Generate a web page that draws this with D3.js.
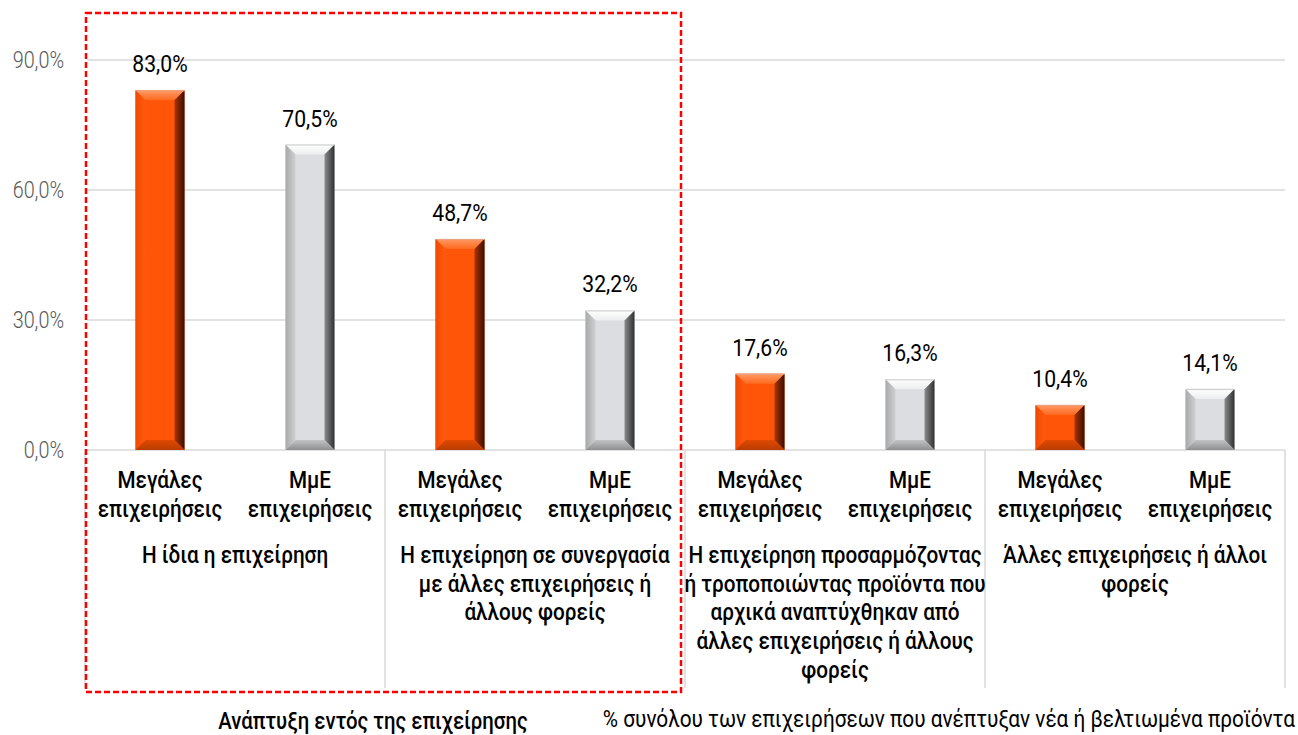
<!DOCTYPE html>
<html><head><meta charset="utf-8">
<script src="https://cdn.jsdelivr.net/npm/d3@7"></script>
<style>
html,body{margin:0;padding:0;background:#fff;}
svg{display:block;font-family:Roboto,"Noto Sans",sans-serif;}
</style></head>
<body><svg id="c" width="1298" height="735"></svg>
<script>
// ---- data ----
const barLabels = ["Μεγάλες|επιχειρήσεις","ΜμΕ|επιχειρήσεις","Μεγάλες|επιχειρήσεις","ΜμΕ|επιχειρήσεις","Μεγάλες|επιχειρήσεις","ΜμΕ|επιχειρήσεις","Μεγάλες|επιχειρήσεις","ΜμΕ|επιχειρήσεις"];
const barTypes = ["large","sme","large","sme","large","sme","large","sme"];
const values = [83.0, 70.5, 48.7, 32.2, 17.6, 16.3, 10.4, 14.1];
const groups = [
  ["Η ίδια η επιχείρηση"],
  ["Η επιχείρηση σε συνεργασία","με άλλες επιχειρήσεις ή","άλλους φορείς"],
  ["Η επιχείρηση προσαρμόζοντας","ή τροποποιώντας προϊόντα που","αρχικά αναπτύχθηκαν από","άλλες επιχειρήσεις ή άλλους","φορείς"],
  ["Άλλες επιχειρήσεις ή άλλοι","φορείς"]
];
const yTicks = [0, 30, 60, 90];
const boxLabel = "Ανάπτυξη εντός της επιχείρησης";
const noteText = "% συνόλου των επιχειρήσεων που ανέπτυξαν νέα ή βελτιωμένα προϊόντα";

// ---- layout ----
const svg = d3.select("#c");
const L = 85, R = 1285, Y0 = 450, Y90 = 60;
const y = d3.scaleLinear().domain([0, 90]).range([Y0, Y90]);
const x = d3.scaleBand().domain(d3.range(values.length)).range([L, R]).paddingInner(0.673).paddingOuter(0.3365);
const xg = d3.scaleBand().domain(d3.range(groups.length)).range([L, R]);
const fmt = v => d3.format(".1f")(v).replace(".", ",") + "%";

// condensed text helper
function txt(parent, tx, ty, s, o){
  return parent.append("text")
    .attr("transform", `translate(${tx},${ty}) scale(${o.sx||0.9},1)`)
    .attr("text-anchor", o.anchor||"middle")
    .attr("font-size", o.size||23)
    .attr("font-weight", o.weight||400)
    .attr("fill", o.fill||"#000")
    .text(s);
}

// gradients
const defs = svg.append("defs");
function lg(id, x1,y1,x2,y2, stops){
  const g = defs.append("linearGradient").attr("id", id).attr("x1",x1).attr("y1",y1).attr("x2",x2).attr("y2",y2);
  stops.forEach(s => g.append("stop").attr("offset", s[0]).attr("stop-color", s[1]));
}
const pal = {
  large: {inner:"#FF5508", top:["#FF9A66","#FF6A1E"], left:["#F04A00","#FF5A10"], right:["#A83400","#3A0E00"], bottom:["#E04A00","#B83C00"]},
  sme:   {inner:"#DCDDE0", top:["#FFFFFF","#ECEDEE"], left:["#A8A9AB","#CFD0D2"], right:["#8A8B8D","#303030"], bottom:["#C2C3C5","#8E8F91"]}
};
Object.entries(pal).forEach(([k,p])=>{
  lg(k+"-top","0","0","0","1",[[0,p.top[0]],[1,p.top[1]]]);
  lg(k+"-left","0","0","1","0",[[0,p.left[0]],[1,p.left[1]]]);
  lg(k+"-right","0","0","1","0",[[0,p.right[0]],[1,p.right[1]]]);
  lg(k+"-bottom","0","0","0","1",[[0,p.bottom[0]],[1,p.bottom[1]]]);
});

// grid lines
svg.append("g").selectAll("line").data(yTicks).join("line")
  .attr("x1", L+2).attr("x2", R).attr("y1", d=>y(d)).attr("y2", d=>y(d))
  .attr("stroke", "#D9D9D9").attr("stroke-width", 1.5);

// y tick labels
const gy = svg.append("g");
yTicks.forEach(d => txt(gy, 64, y(d)+8, fmt(d), {anchor:"end", size:23, sx:0.86, weight:300, fill:"#595959"}));

// group separators
svg.append("g").selectAll("line").data(d3.range(groups.length+1)).join("line")
  .attr("x1", i => i<groups.length ? xg(i) : R).attr("x2", i => i<groups.length ? xg(i) : R)
  .attr("y1", Y0).attr("y2", 688).attr("stroke", "#D9D9D9").attr("stroke-width", 1.5);

// bars with bevel
const bars = svg.append("g").selectAll("g").data(values).join("g");
bars.each(function(v, i){
  const g = d3.select(this), t = barTypes[i], p = pal[t];
  const x0 = x(i), w = x.bandwidth(), x1 = x0 + w, yt = y(v), yb = y(0), h = yb - yt;
  const b = Math.min(10, h/2, w/2);
  g.append("rect").attr("x", x0).attr("y", yt).attr("width", w).attr("height", h).attr("fill", p.inner);
  const poly = (pts, fill) => g.append("polygon").attr("points", pts.map(q=>q.join(",")).join(" ")).attr("fill", fill);
  poly([[x0,yt],[x1,yt],[x1-b,yt+b],[x0+b,yt+b]], `url(#${t}-top)`);
  poly([[x0,yt],[x0+b,yt+b],[x0+b,yb-b],[x0,yb]], `url(#${t}-left)`);
  poly([[x1,yt],[x1,yb],[x1-b,yb-b],[x1-b,yt+b]], `url(#${t}-right)`);
  poly([[x0,yb],[x0+b,yb-b],[x1-b,yb-b],[x1,yb]], `url(#${t}-bottom)`);
  g.append("line").attr("x1", x0).attr("x2", x1).attr("y1", yt+0.5).attr("y2", yt+0.5).attr("stroke", t==="large"?"#E8A080":"#C8C8C8").attr("stroke-width",1);
});

// value labels
const gv = svg.append("g");
values.forEach((d,i) => txt(gv, x(i)+x.bandwidth()/2, y(d)-18, fmt(d), {size:23, sx:0.92}));

// bar category labels
const gc = svg.append("g");
barLabels.forEach((d,i) => {
  const cx = x(i)+x.bandwidth()/2;
  d.split("|").forEach((s,k) => txt(gc, cx, 488 + k*29, s, {size:23, sx:0.9, weight:500}));
});

// group labels
const gg = svg.append("g");
groups.forEach((d,i) => {
  const cx = xg(i)+xg.bandwidth()/2;
  d.forEach((s,k) => txt(gg, cx, 563 + k*28.7, s, {size:23, sx:0.9, weight:500}));
});

// red dashed box
svg.append("rect").attr("x", 86).attr("y", 13).attr("width", 595).attr("height", 679)
  .attr("fill","none").attr("stroke","#FF0000").attr("stroke-width",2.5).attr("stroke-dasharray","6,3");

// bottom texts
txt(svg, 373, 729, boxLabel, {size:23, sx:0.886, weight:500});
txt(svg, 1295, 727, noteText, {anchor:"end", size:23, sx:0.905});
</script></body></html>
